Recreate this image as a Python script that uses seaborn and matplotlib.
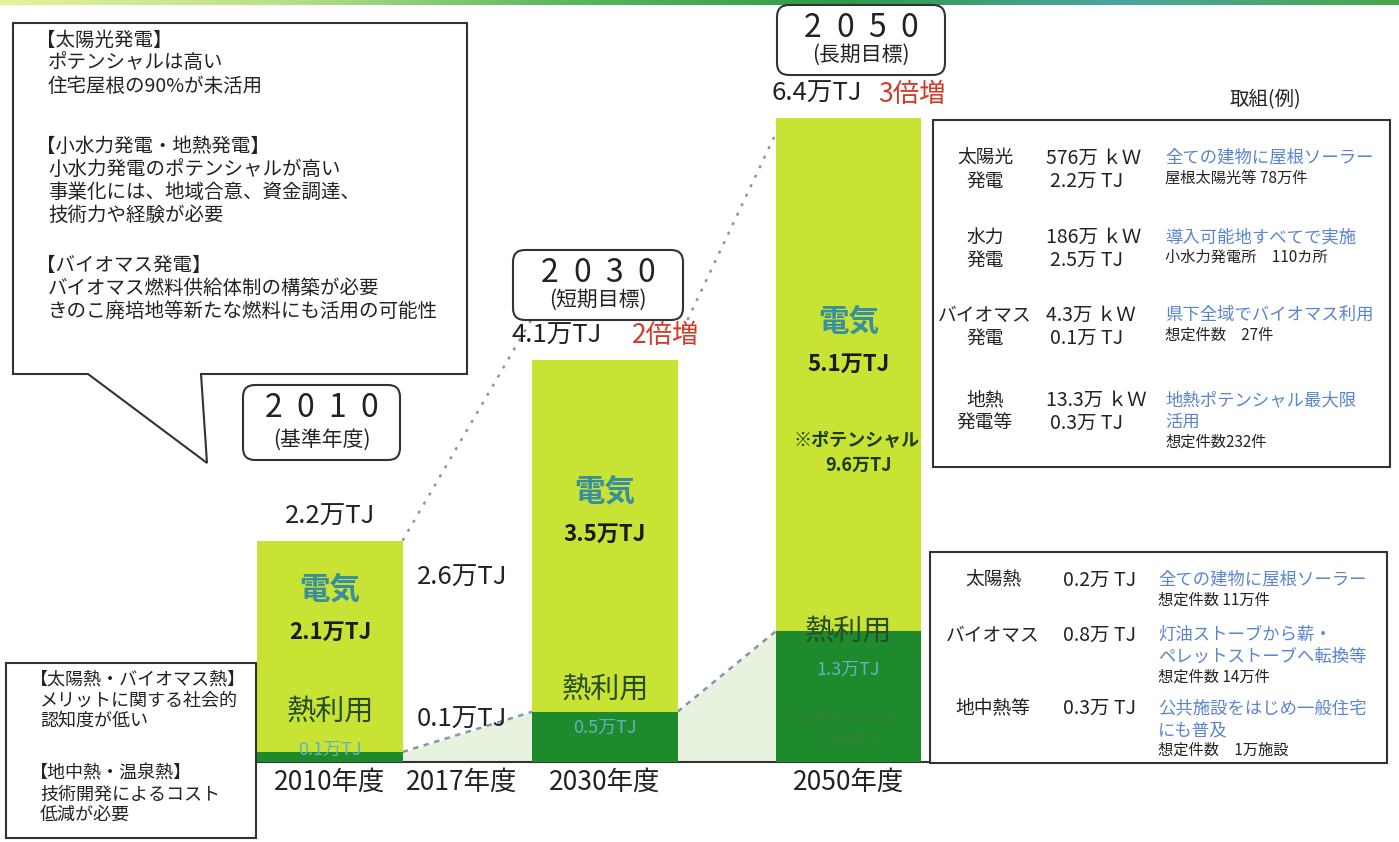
import numpy as np
import pandas as pd
import matplotlib
matplotlib.use("Agg")
import matplotlib.pyplot as plt
from matplotlib.patches import FancyBboxPatch, Rectangle, Polygon
from matplotlib.colors import LinearSegmentedColormap
import seaborn as sns

# ---------------- data (単位: 万TJ) ----------------
bar_years = ["2010年度", "2030年度", "2050年度"]
heat_use = [0.1, 0.5, 1.3]          # 熱利用
electricity = [2.1, 3.5, 5.1]       # 電気
totals = [2.2, 4.1, 6.4]            # 合計
growth = ["", "2倍増", "3倍増"]
goal_year = ["2010", "2030", "2050"]
goal_kind = ["(基準年度)", "(短期目標)", "(長期目標)"]

current_year = "2017年度"
current_total = 2.6
current_heat = 0.1

potential_elec_2050 = 9.6
potential_heat_2050 = 2.6

tick_years = ["2010年度", "2017年度", "2030年度", "2050年度"]

# 取組(例) — 発電
power_src = [["太陽光", "発電"], ["水力", "発電"], ["バイオマス", "発電"], ["地熱", "発電等"]]
power_kw = ["576万", "186万", "4.3万", "13.3万"]
power_tj = [2.2, 2.5, 0.1, 0.3]
power_plan = [["全ての建物に屋根ソーラー"], ["導入可能地すべてで実施"],
              ["県下全域でバイオマス利用"], ["地熱ポテンシャル最大限", "活用"]]
power_note = ["屋根太陽光等 78万件", "小水力発電所　110カ所", "想定件数　27件", "想定件数232件"]

# 取組(例) — 熱利用
heat_src = ["太陽熱", "バイオマス", "地中熱等"]
heat_tj = [0.2, 0.8, 0.3]
heat_plan = [["全ての建物に屋根ソーラー"], ["灯油ストーブから薪・", "ペレットストーブへ転換等"],
             ["公共施設をはじめ一般住宅", "にも普及"]]
heat_note = ["想定件数 11万件", "想定件数 14万件", "想定件数　1万施設"]

# 課題
issues_power = [
    ("【太陽光発電】", ["ポテンシャルは高い", "住宅屋根の90%が未活用"]),
    ("【小水力発電・地熱発電】", ["小水力発電のポテンシャルが高い", "事業化には、地域合意、資金調達、", "技術力や経験が必要"]),
    ("【バイオマス発電】", ["バイオマス燃料供給体制の構築が必要", "きのこ廃培地等新たな燃料にも活用の可能性"]),
]
issues_heat = [
    ("【太陽熱・バイオマス熱】", ["メリットに関する社会的", "認知度が低い"]),
    ("【地中熱・温泉熱】", ["技術開発によるコスト", "低減が必要"]),
]

# ---------------- style / layout ----------------
sns.set_theme(style="white")
plt.rcParams["font.family"] = ["Noto Sans CJK JP", "DejaVu Sans"]

ELEC = "#c8e334"
HEAT = "#1d8a2c"
PALE = "#e7f3de"
TEAL = "#3a8f9c"
LIGHTBLUE = "#63b2c4"
BLUE = "#5a84d2"
RED = "#d23c28"
DOT = "#8796ad"

W, H = 1399, 842
BASE_PX = 762          # baseline of the bars
PX_PER_UNIT = 100.6    # vertical scale, px per 万TJ
ORIGIN_PX = 330        # px of slot 0
SLOT_PX = 137.5        # px per slot unit
x_slot = {"2010年度": 0.0, "2017年度": 0.96, "2030年度": 2.0, "2050年度": 3.77}
BAR_W = 1.055          # bar width in slot units
BASELINE_PX = (227, 930)


def px_x(s):
    return ORIGIN_PX + s * SLOT_PX


def px_y(v):
    return BASE_PX - v * PX_PER_UNIT


fig = plt.figure(figsize=(W / 100, H / 100), dpi=100)
fig.patch.set_facecolor("white")

ax = fig.add_axes([0, (H - BASE_PX) / H, 1, BASE_PX / H])
ax.set_facecolor("none")

bars = pd.DataFrame({"年度": bar_years, "熱利用": heat_use, "電気": electricity})
bars["pos"] = bars["年度"].map(x_slot)
bars["stack"] = bars["熱利用"] + bars["電気"]
native_unit = np.diff(np.sort(bars["pos"].values)).min()
wfrac = BAR_W / native_unit

sns.barplot(data=bars, x="pos", y="stack", native_scale=True, orient="x",
            color=ELEC, saturation=1, width=wfrac, errorbar=None,
            linewidth=0, ax=ax, zorder=2)
sns.barplot(data=bars, x="pos", y="熱利用", native_scale=True, orient="x",
            color=HEAT, saturation=1, width=wfrac, errorbar=None,
            linewidth=0, ax=ax, zorder=3)

hw = BAR_W / 2
p = bars["pos"].values
stk = bars["stack"].values

# pale trend areas for heat use between the bars
for i in range(len(p) - 1):
    xs = [p[i] + hw, p[i + 1] - hw]
    ys = [heat_use[i], heat_use[i + 1]]
    ax.fill_between(xs, 0, ys, color=PALE, zorder=1, linewidth=0)
    ax.plot(xs, ys, ls=(0, (2.2, 2.2)), color=DOT, lw=1.8, zorder=1.5)

# dotted growth connectors between the totals
ax.plot([p[0] + hw, p[1] - hw + 0.1], [stk[0], stk[1] + 0.65],
        ls=(0, (1.2, 3)), color=DOT, lw=1.8, zorder=1.5)
ax.plot([p[1] + hw + 0.04, p[2] - hw], [stk[1] + 0.3, stk[2] - 0.15],
        ls=(0, (1.2, 3)), color=DOT, lw=1.8, zorder=1.5)

ax.set_xlim(-ORIGIN_PX / SLOT_PX, (W - ORIGIN_PX) / SLOT_PX)
ax.set_ylim(0, BASE_PX / PX_PER_UNIT)
ax.set_xticks([x_slot[y] for y in tick_years], tick_years)
ax.tick_params(axis="x", length=0, pad=5, labelsize=19, colors="#222222")
ax.set_yticks([])
ax.set_xlabel("")
ax.set_ylabel("")
for s in ["top", "left", "right"]:
    ax.spines[s].set_visible(False)
ax.spines["bottom"].set_color("#333333")
ax.spines["bottom"].set_linewidth(1.5)
ax.spines["bottom"].set_bounds((BASELINE_PX[0] - ORIGIN_PX) / SLOT_PX,
                               (BASELINE_PX[1] - ORIGIN_PX) / SLOT_PX)

# ---------------- overlay in pixel coordinates ----------------
ov = fig.add_axes([0, 0, 1, 1], zorder=5)
ov.set_facecolor("none")
ov.axis("off")

# thin coloured strip along the top edge
strip = LinearSegmentedColormap.from_list(
    "strip", ["#e4f29a", "#b9e08a", "#5cb860", "#2f9a48", "#49a7a0", "#4aa64a"])
ov.imshow(np.linspace(0, 1, 256)[None, :], extent=[0, W, 5, 0], cmap=strip,
          aspect="auto", zorder=0)

ov.set_xlim(0, W)
ov.set_ylim(H, 0)

LW = 1.5

# callout with power-generation issues
callout = Polygon([(13, 23), (467, 23), (467, 374), (201, 374), (207, 463),
                   (88, 374), (13, 374)], closed=True, facecolor="white",
                  edgecolor="#333333", lw=LW, zorder=2)
ov.add_patch(callout)
y = 40
gaps = [0, 60, 50]
for k, (head, lines) in enumerate(issues_power):
    y += gaps[k]
    ov.text(36, y, head, fontsize=14, va="center", ha="left", color="#222222")
    for ln in lines:
        y += 23
        ov.text(48, y, ln, fontsize=14, va="center", ha="left", color="#222222")

# heat-use issues box
ov.add_patch(Rectangle((6, 663), 250, 175, facecolor="white",
                       edgecolor="#333333", lw=LW, zorder=2))
y = 680
for k, (head, lines) in enumerate(issues_heat):
    if k:
        y += 53
    ov.text(30, y, head, fontsize=13, va="center", ha="left", color="#222222")
    for ln in lines:
        y += 20.5
        ov.text(40, y, ln, fontsize=13, va="center", ha="left", color="#222222")

# year goal boxes
goal_boxes = [(243, 385, 157, 75), (513, 250, 170, 70), (777, 5, 168, 70)]
for (bx, by, bw, bh), yr, kind in zip(goal_boxes, goal_year, goal_kind):
    ov.add_patch(FancyBboxPatch((bx, by), bw, bh,
                                boxstyle="round,pad=0,rounding_size=12",
                                facecolor="white", edgecolor="#333333",
                                lw=LW, zorder=2))
    cx = bx + bw / 2
    for j, ch in enumerate(yr):
        ov.text(cx + (j - 1.5) * 32, by + 23, ch, fontsize=23, ha="center",
                va="center", color="#222222", zorder=3)
    ov.text(cx, by + bh - 20, kind, fontsize=15, ha="center", va="center",
            color="#222222", zorder=3)

# totals above the bars
total_dx = [0, -3, 14]
growth_dx = [0, 27, 30]
for i in range(len(bar_years)):
    cx = px_x(p[i])
    ty = px_y(stk[i]) - 24
    lab = f"{totals[i]}万TJ"
    if growth[i]:
        ov.text(cx + total_dx[i], ty, lab, fontsize=18.5, ha="right",
                va="center", color="#222222")
        ov.text(cx + growth_dx[i], ty, growth[i], fontsize=19, ha="left",
                va="center", color=RED)
    else:
        ov.text(cx, ty, lab, fontsize=18.5, ha="center", va="center",
                color="#222222")

# labels inside the bars
elec_y = [590, 492, 322]
heat_y = [712, 690, 632]
for i in range(len(bar_years)):
    cx = px_x(p[i])
    ov.text(cx, elec_y[i], "電気", fontsize=22, ha="center", va="center",
            color=TEAL, fontweight="bold")
    ov.text(cx, elec_y[i] + 42, f"{electricity[i]}万TJ", fontsize=16,
            ha="center", va="center", color="#1a1a1a", fontweight="bold")
    ov.text(cx, heat_y[i], "熱利用", fontsize=21, ha="center", va="center",
            color="#274d27")
    ov.text(cx, heat_y[i] + 38, f"{heat_use[i]}万TJ", fontsize=13,
            ha="center", va="center", color=LIGHTBLUE)

c50 = px_x(x_slot["2050年度"])
ov.text(c50 + 8, 440, "※ポテンシャル", fontsize=13, ha="center", va="center",
        color="#1f3a12", fontweight="bold")
ov.text(c50 + 10, 465, f"{potential_elec_2050}万TJ", fontsize=13, ha="center",
        va="center", color="#1f3a12", fontweight="bold")
ov.text(c50, 718, "※ポテンシャル", fontsize=11, ha="center", va="center",
        color="#3f7a3a")
ov.text(c50, 740, f"{potential_heat_2050}万TJ", fontsize=11, ha="center",
        va="center", color="#3f7a3a")

# current state (2017)
c17 = px_x(x_slot[current_year])
ov.text(c17, 578, f"{current_total}万TJ", fontsize=18.5, ha="center",
        va="center", color="#222222")
ov.text(c17, 720, f"{current_heat}万TJ", fontsize=18.5, ha="center",
        va="center", color="#222222")

# 取組(例)
ov.text(1265, 100, "取組(例)", fontsize=14, ha="center", va="center",
        color="#222222")

# power generation measures
ov.add_patch(Rectangle((933, 120), 457, 347, facecolor="white",
                       edgecolor="#333333", lw=LW, zorder=2))
row_y = [158, 237, 315, 400]
for i in range(len(power_src)):
    y0 = row_y[i]
    ov.text(985, y0, power_src[i][0], fontsize=13.5, ha="center", va="center",
            color="#222222")
    ov.text(985, y0 + 23, power_src[i][1], fontsize=13.5, ha="center",
            va="center", color="#222222")
    ov.text(1046, y0, f"{power_kw[i]} ｋＷ", fontsize=14, ha="left",
            va="center", color="#222222")
    ov.text(1050, y0 + 23, f"{power_tj[i]}万 TJ", fontsize=14, ha="left",
            va="center", color="#222222")
    yy = y0
    for j, ln in enumerate(power_plan[i]):
        if j:
            yy += 22
        ov.text(1165, yy, ln, fontsize=12.5, ha="left", va="center", color=BLUE)
    ov.text(1165, yy + 20, power_note[i], fontsize=11, ha="left", va="center",
            color="#222222")

# heat use measures
ov.add_patch(Rectangle((930, 552), 457, 211, facecolor="white",
                       edgecolor="#333333", lw=LW, zorder=2))
hrow_y = [580, 635, 708]
for i in range(len(heat_src)):
    y0 = hrow_y[i]
    ov.text(993, y0, heat_src[i], fontsize=13.5, ha="center", va="center",
            color="#222222")
    ov.text(1063, y0, f"{heat_tj[i]}万 TJ", fontsize=14, ha="left",
            va="center", color="#222222")
    yy = y0
    for j, ln in enumerate(heat_plan[i]):
        if j:
            yy += 22
        ov.text(1158, yy, ln, fontsize=12.5, ha="left", va="center", color=BLUE)
    ov.text(1158, yy + 20, heat_note[i], fontsize=11, ha="left", va="center",
            color="#222222")

fig.savefig("out.png", dpi=100)
